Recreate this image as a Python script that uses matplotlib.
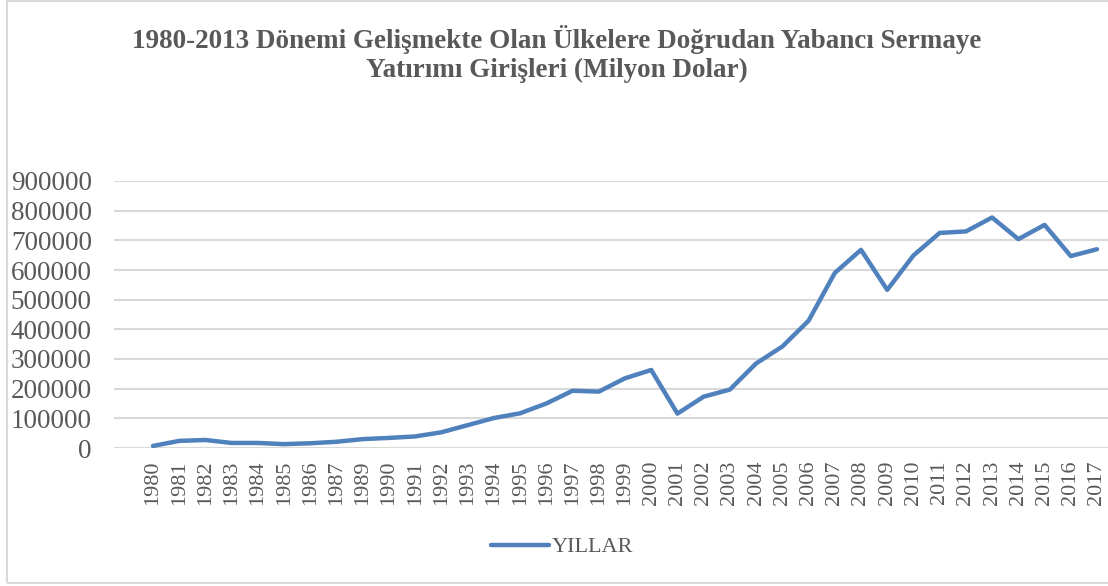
import matplotlib
matplotlib.use("Agg")
import matplotlib.pyplot as plt
from matplotlib.patches import Rectangle

years = ["1980", "1981", "1982", "1983", "1984", "1985", "1986", "1987", "1989",
         "1990", "1991", "1992", "1993", "1994", "1995", "1996", "1997", "1998",
         "1999", "2000", "2001", "2002", "2003", "2004", "2005", "2006", "2007",
         "2008", "2009", "2010", "2011", "2012", "2013", "2014", "2015", "2016", "2017"]
values = [7000, 24000, 27000, 17000, 17000, 13000, 16000, 21000, 30000,
          34000, 39000, 53000, 77000, 101000, 117000, 150000, 193000, 190000,
          235000, 263000, 116000, 173000, 197000, 285000, 342000, 429000, 590000,
          668000, 533000, 649000, 725000, 730000, 777000, 704000, 752000, 647000, 670000]
yticks = [0, 100000, 200000, 300000, 400000, 500000, 600000, 700000, 800000, 900000]

W, H = 1108, 586
fig = plt.figure(figsize=(W / 100, H / 100), dpi=100)
serif = ["Liberation Serif", "DejaVu Serif"]
grey = "#595959"

# outer chart border
fig.patches.append(Rectangle((7 / W, 1 - 583 / H), 1.2, (583 - 1) / H,
                             transform=fig.transFigure, fill=False,
                             edgecolor="#D9D9D9", linewidth=1.5))

left, right, top, bottom = 114, 1108, 181, 448
ax = fig.add_axes([left / W, 1 - bottom / H, (right - left) / W, (bottom - top) / H])

x = list(range(len(years)))
line, = ax.plot(x, values, color="#4F81BD", linewidth=3.2, solid_capstyle="round",
                solid_joinstyle="round", label="YILLAR")

step = (1097 - 153) / 36
ax.set_xlim(-(153 - left) / step, 36 + (right - 1097) / step)
ax.set_ylim(0, 900000)
ax.set_yticks(yticks)
ax.set_yticklabels([str(v) for v in yticks], fontfamily=serif, fontsize=19.5, color=grey)
ax.set_xticks(x)
ax.set_xticklabels(years, rotation=90, fontfamily=serif, fontsize=16, color=grey)
ax.tick_params(axis="both", length=0)
ax.tick_params(axis="y", pad=16)
ax.tick_params(axis="x", pad=9)
ax.grid(axis="y", color="#D9D9D9", linewidth=1.5)
ax.set_axisbelow(True)
for s in ax.spines.values():
    s.set_visible(False)

fig.text(557 / W, 1 - 40 / H, "1980-2013 Dönemi Gelişmekte Olan Ülkelere Doğrudan Yabancı Sermaye",
         ha="center", va="center", fontfamily=serif, fontsize=19.5, fontweight="bold", color=grey)
fig.text(557 / W, 1 - 70 / H, "Yatırımı Girişleri (Milyon Dolar)",
         ha="center", va="center", fontfamily=serif, fontsize=19.5, fontweight="bold", color=grey)

leg = fig.legend(handles=[line], loc="center", bbox_to_anchor=(562 / W, 1 - 547 / H),
                 frameon=False, prop={"family": serif, "size": 16},
                 handlelength=2.6, handletextpad=0.1, labelcolor=grey)

fig.savefig("out.png", dpi=100)
